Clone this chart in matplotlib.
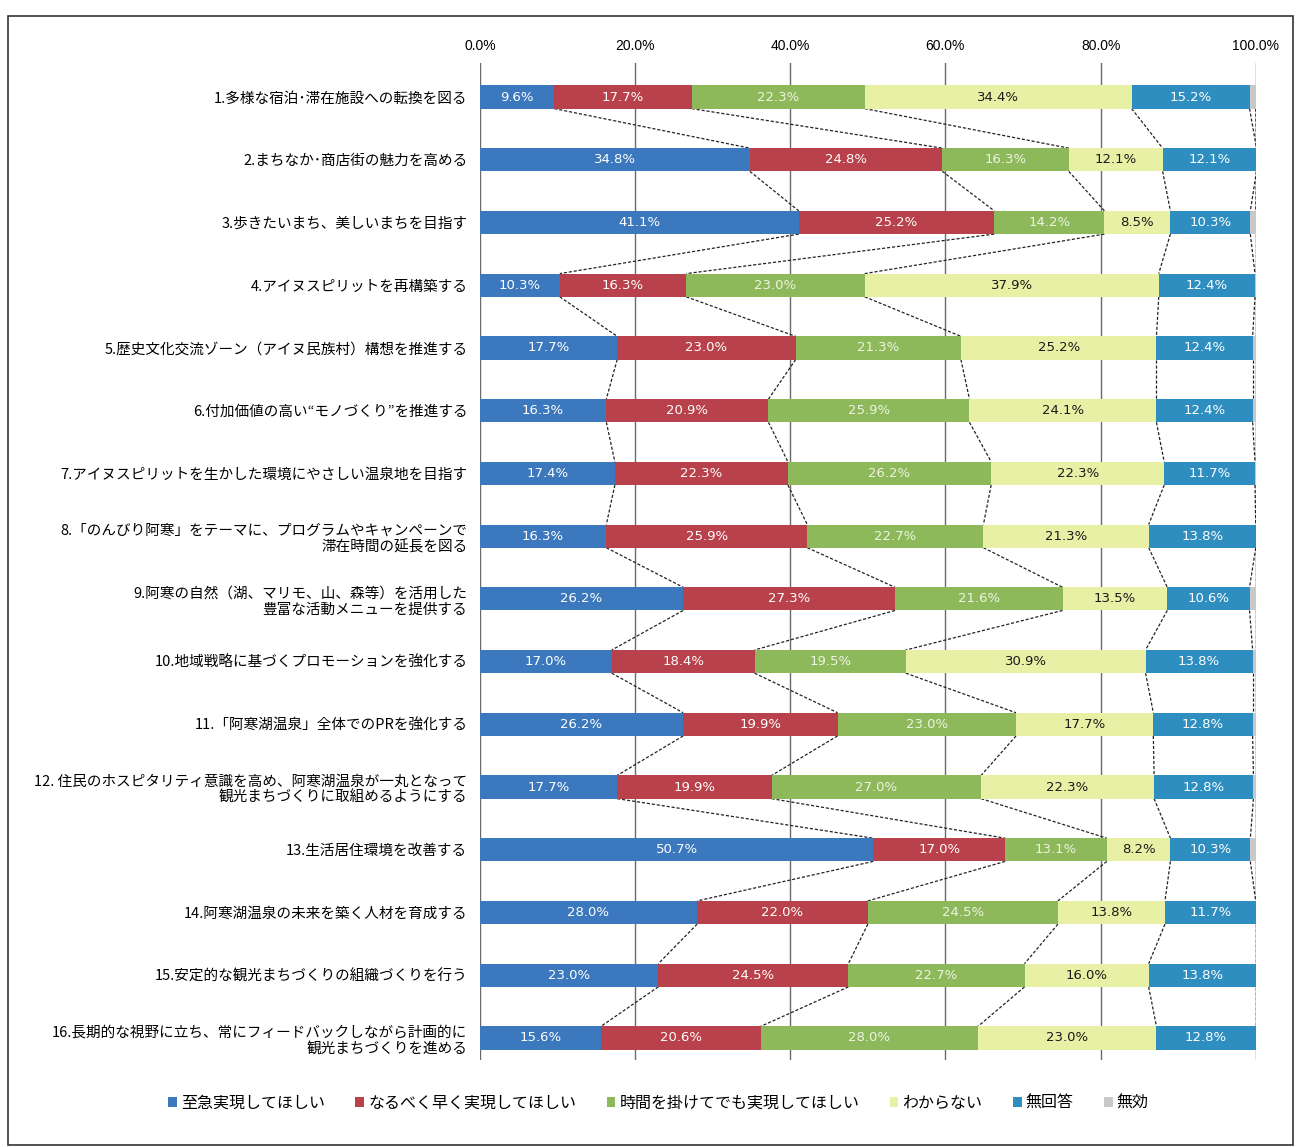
import numpy as np
import matplotlib.pyplot as plt
from matplotlib.patches import Patch, Rectangle

plt.rcParams['font.family'] = ['Noto Sans CJK JP', 'DejaVu Sans']

# 設問
items = [
    "1.多様な宿泊･滞在施設への転換を図る",
    "2.まちなか･商店街の魅力を高める",
    "3.歩きたいまち、美しいまちを目指す",
    "4.アイヌスピリットを再構築する",
    "5.歴史文化交流ゾーン（アイヌ民族村）構想を推進する",
    "6.付加価値の高い“モノづくり”を推進する",
    "7.アイヌスピリットを生かした環境にやさしい温泉地を目指す",
    "8.「のんびり阿寒」をテーマに、プログラムやキャンペーンで\n滞在時間の延長を図る",
    "9.阿寒の自然（湖、マリモ、山、森等）を活用した\n豊富な活動メニューを提供する",
    "10.地域戦略に基づくプロモーションを強化する",
    "11.「阿寒湖温泉」全体でのPRを強化する",
    "12. 住民のホスピタリティ意識を高め、阿寒湖温泉が一丸となって\n観光まちづくりに取組めるようにする",
    "13.生活居住環境を改善する",
    "14.阿寒湖温泉の未来を築く人材を育成する",
    "15.安定的な観光まちづくりの組織づくりを行う",
    "16.長期的な視野に立ち、常にフィードバックしながら計画的に\n観光まちづくりを進める",
]

series_names = ["至急実現してほしい", "なるべく早く実現してほしい", "時間を掛けてでも実現してほしい",
                "わからない", "無回答", "無効"]

shikyu   = [9.6, 34.8, 41.1, 10.3, 17.7, 16.3, 17.4, 16.3, 26.2, 17.0, 26.2, 17.7, 50.7, 28.0, 23.0, 15.6]
hayaku   = [17.7, 24.8, 25.2, 16.3, 23.0, 20.9, 22.3, 25.9, 27.3, 18.4, 19.9, 19.9, 17.0, 22.0, 24.5, 20.6]
jikan    = [22.3, 16.3, 14.2, 23.0, 21.3, 25.9, 26.2, 22.7, 21.6, 19.5, 23.0, 27.0, 13.1, 24.5, 22.7, 28.0]
wakaranai = [34.4, 12.1, 8.5, 37.9, 25.2, 24.1, 22.3, 21.3, 13.5, 30.9, 17.7, 22.3, 8.2, 13.8, 16.0, 23.0]
mukaito  = [15.2, 12.1, 10.3, 12.4, 12.4, 12.4, 11.7, 13.8, 10.6, 13.8, 12.8, 12.8, 10.3, 11.7, 13.8, 12.8]
mukou    = [0.8, 0.0, 0.7, 0.1, 0.4, 0.4, 0.1, 0.0, 0.8, 0.4, 0.4, 0.3, 0.7, 0.0, 0.0, 0.0]

xticks = [0, 20, 40, 60, 80, 100]

colors = ['#3b78bd', '#b8414b', '#8db95b', '#e8f0a6', '#2f8ec0', '#c8c8c8']
txt_colors = ['white', 'white', '#eef3e2', '#1a1a1a', 'white', None]

data = np.array([shikyu, hayaku, jikan, wakaranai, mukaito, mukou])
n = len(items)
y = np.arange(n)
h = 0.37

fig = plt.figure(figsize=(13.04, 11.47), dpi=100)
ax = fig.add_axes([0.368, 0.0759, 0.595, 0.8696])

left = np.zeros(n)
cums = []
for k in range(len(series_names)):
    ax.barh(y, data[k], left=left, height=h, color=colors[k], zorder=3,
            label=series_names[k])
    if txt_colors[k] is not None:
        for i in range(n):
            ax.text(left[i] + data[k][i] / 2, y[i], f"{data[k][i]:.1f}%",
                    ha='center', va='center', fontsize=9.5, color=txt_colors[k],
                    family=['Liberation Sans Narrow', 'DejaVu Sans'], zorder=4)
    left = left + data[k]
    cums.append(left.copy())

# 系列線
for k in range(len(series_names)):
    for i in range(n - 1):
        ax.plot([cums[k][i], cums[k][i + 1]], [y[i] + h / 2, y[i + 1] - h / 2],
                color='#222222', lw=0.9, ls=(0, (2.5, 1.5)), zorder=2)

ax.set_xlim(0, 100)
ax.set_ylim(15.35, -0.55)
ax.set_yticks(y)
ax.set_yticklabels(items, fontsize=10.5, ha='right')
ax.xaxis.tick_top()
ax.set_xticks(xticks)
ax.set_xticklabels([f"{v:.1f}%" for v in xticks], fontsize=10,
                   family=['Liberation Sans', 'DejaVu Sans'])
ax.tick_params(axis='both', length=0)
ax.tick_params(axis='x', pad=7)
ax.tick_params(axis='y', pad=9)
for s in ax.spines.values():
    s.set_visible(False)
ax.grid(axis='x', color='#6a6a6a', lw=1.0, zorder=1)
ax.set_axisbelow(True)

handles = [Patch(facecolor=c) for c in colors]
fig.legend(handles, series_names, loc='center', bbox_to_anchor=(0.505, 1 - 1103 / 1147),
           ncol=6, frameon=False, fontsize=11.5, handlelength=0.55, handleheight=0.55,
           handletextpad=0.25, columnspacing=1.9)

# 枠
fig.patches.append(Rectangle((8 / 1304, 1 - 1145 / 1147), (1293 - 8) / 1304, (1145 - 16) / 1147,
                             transform=fig.transFigure, fill=False, ec='#333333', lw=1.2))

fig.savefig("out.png", dpi=100)
